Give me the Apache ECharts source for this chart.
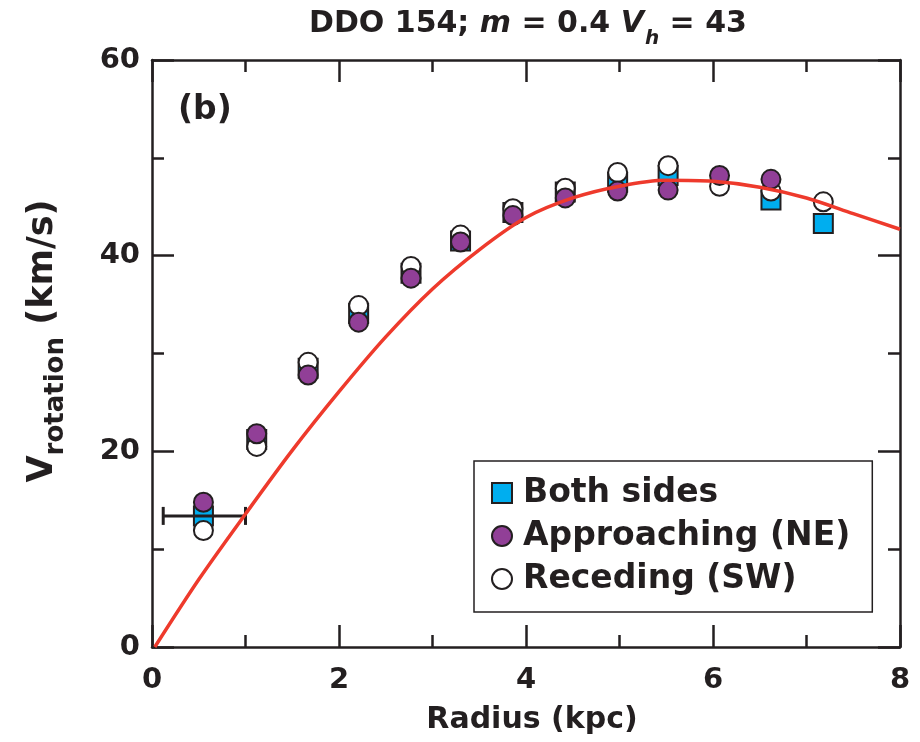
<!DOCTYPE html>
<html><head><meta charset="utf-8">
<script src="https://cdn.jsdelivr.net/npm/echarts@6/dist/echarts.min.js"></script>
<style>html,body{margin:0;padding:0;background:#fff}#c{width:920px;height:742px}</style>
</head><body><div id="c"></div>
<script>
// ---- data ----
const bothRadius = [0.55, 1.12, 1.67, 2.21, 2.77, 3.30, 3.86, 4.42, 4.98, 5.52, 6.62, 7.18];
const bothSides = [13.4, 21.2, 28.5, 34.1, 38.2, 41.5, 44.4, 46.5, 47.5, 48.2, 45.7, 43.3];
const approachRadius = [0.55, 1.12, 1.67, 2.21, 2.77, 3.30, 3.86, 4.42, 4.98, 5.52, 6.07, 6.62];
const approaching = [14.8, 21.8, 27.8, 33.2, 37.7, 41.4, 44.1, 45.9, 46.6, 46.7, 48.2, 47.8];
const recedeRadius = [0.55, 1.12, 1.67, 2.21, 2.77, 3.30, 3.86, 4.42, 4.98, 5.52, 6.07, 6.62, 7.18];
const receding = [11.9, 20.5, 29.1, 34.9, 38.9, 42.1, 44.8, 46.9, 48.5, 49.2, 47.1, 46.6, 45.5];
const modelRadius = [0.03, 0.5, 1.0, 1.5, 2.0, 2.5, 3.0, 3.5, 4.0, 4.5, 5.0, 5.5, 6.0, 6.5, 7.0, 7.5, 8.0];
const modelV = [0, 6.9, 13.6, 20.1, 26.1, 31.7, 36.6, 40.6, 43.9, 45.9, 47.1, 47.7, 47.6, 47.0, 45.9, 44.3, 42.7];
const errorBar = [[0.55, 13.4, 0.12, 1.0]]; // [x, y, xLow, xHigh]
const seriesNames = ['Both sides', 'Approaching (NE)', 'Receding (SW)'];
const xTicks = [0, 2, 4, 6, 8];
const yTicks = [0, 20, 40, 60];

// ---- style ----
const F = 'DejaVu Sans';
const INK = '#231f20';
const BLUE = '#00aeef';
const PURPLE = '#913f97';
const RED = '#ee3a2c';

const zip = (a, b) => a.map((v, i) => [v, b[i]]);

function makeAxis(dim, pos, showLabel) {
  const isX = dim === 'x';
  const ticks = isX ? xTicks : yTicks;
  return {
    type: 'value', position: pos,
    min: ticks[0], max: ticks[ticks.length - 1], interval: ticks[1] - ticks[0],
    axisLine: { show: true, onZero: false, lineStyle: { color: INK, width: 2.5 } },
    axisTick: { show: true, inside: true, length: 22, lineStyle: { color: INK, width: 2.5 } },
    minorTick: { show: true, splitNumber: 2, length: 12, lineStyle: { color: INK, width: 2.5 } },
    splitLine: { show: false }, minorSplitLine: { show: false },
    axisLabel: { show: showLabel, fontFamily: F, fontWeight: 'bold', fontSize: 29, color: INK, margin: isX ? 19 : 12 },
  };
}

const xMain = Object.assign(makeAxis('x', 'bottom', true), {
  name: 'Radius (kpc)', nameLocation: 'middle', nameGap: 58,
  nameTextStyle: { fontFamily: F, fontWeight: 'bold', fontSize: 30, color: INK, padding: [0, 0, 0, 12] }
});

const option = {
  backgroundColor: '#fff',
  animation: false,
  title: {
    text: '{n|DDO 154; }{i|m}{n| = 0.4 }{i|V}{s|h}{n| = 43}',
    left: 309, top: 9, padding: 0,
    textStyle: {
      rich: {
        n: { fontFamily: F, fontWeight: 'bold', fontSize: 30, color: INK, lineHeight: 34, verticalAlign: 'top' },
        i: { fontFamily: F, fontWeight: 'bold', fontStyle: 'italic', fontSize: 30, color: INK, lineHeight: 34, verticalAlign: 'top' },
        s: { fontFamily: F, fontWeight: 'bold', fontStyle: 'italic', fontSize: 20, color: INK, lineHeight: 20, padding: [20, 0, 0, 1], verticalAlign: 'top' }
      }
    }
  },
  grid: { left: 152, right: 20, top: 60, bottom: 95, containLabel: false },
  xAxis: [xMain, makeAxis('x', 'top', false)],
  yAxis: [makeAxis('y', 'left', true), makeAxis('y', 'right', false)],
  legend: {
    data: seriesNames, orient: 'vertical', left: 474, top: 461,
    padding: [12, 22, 13, 17], itemGap: 3, itemWidth: 20, itemHeight: 20,
    borderColor: INK, borderWidth: 1.5, selectedMode: false,
    textStyle: { fontFamily: F, fontWeight: 'bold', fontSize: 33, color: INK, lineHeight: 40, padding: [0, 0, 0, 6] }
  },
  graphic: [
    { type: 'text', x: 178, y: 110, style: { text: '(b)', fontFamily: F, fontWeight: 'bold', fontSize: 33, fill: INK, verticalAlign: 'middle' } },
    { type: 'text', x: 44, y: 341, rotation: Math.PI / 2,
      style: {
        text: '{v|V}{s|rotation}{v| (km/s)}', align: 'center', verticalAlign: 'middle',
        rich: {
          v: { fontFamily: F, fontWeight: 'bold', fontSize: 35, fill: INK, lineHeight: 38, verticalAlign: 'top' },
          s: { fontFamily: F, fontWeight: 'bold', fontSize: 26, fill: INK, lineHeight: 26, padding: [18, 0, 0, 0], verticalAlign: 'top' }
        }
      } }
  ],
  series: [
    { name: seriesNames[0], type: 'scatter', data: zip(bothRadius, bothSides), symbol: 'rect', symbolSize: 19, z: 2,
      itemStyle: { color: BLUE, borderColor: INK, borderWidth: 2, opacity: 1 } },
    { type: 'custom', data: errorBar, z: 3, encode: { x: [0, 2, 3], y: 1 },
      renderItem: function (params, api) {
        const y = api.value(1);
        const a = api.coord([api.value(2), y]);
        const b = api.coord([api.value(3), y]);
        const h = 9;
        const st = { stroke: INK, lineWidth: 3 };
        return { type: 'group', children: [
          { type: 'line', shape: { x1: a[0], y1: a[1], x2: b[0], y2: b[1] }, style: st },
          { type: 'line', shape: { x1: a[0], y1: a[1] - h, x2: a[0], y2: a[1] + h }, style: st },
          { type: 'line', shape: { x1: b[0], y1: b[1] - h, x2: b[0], y2: b[1] + h }, style: st }
        ] };
      } },
    { name: seriesNames[2], type: 'scatter', data: zip(recedeRadius, receding), symbol: 'circle', symbolSize: 19, z: 4,
      itemStyle: { color: '#fff', borderColor: INK, borderWidth: 2, opacity: 1 } },
    { name: seriesNames[1], type: 'scatter', data: zip(approachRadius, approaching), symbol: 'circle', symbolSize: 19, z: 5,
      itemStyle: { color: PURPLE, borderColor: INK, borderWidth: 2, opacity: 1 } },
    { type: 'line', data: zip(modelRadius, modelV), smooth: 0.3, showSymbol: false, symbol: 'none', z: 6,
      lineStyle: { color: RED, width: 3.5 } }
  ]
};
const chart = echarts.init(document.getElementById('c'), null, { renderer: 'canvas' });
chart.setOption(option);
</script></body></html>
